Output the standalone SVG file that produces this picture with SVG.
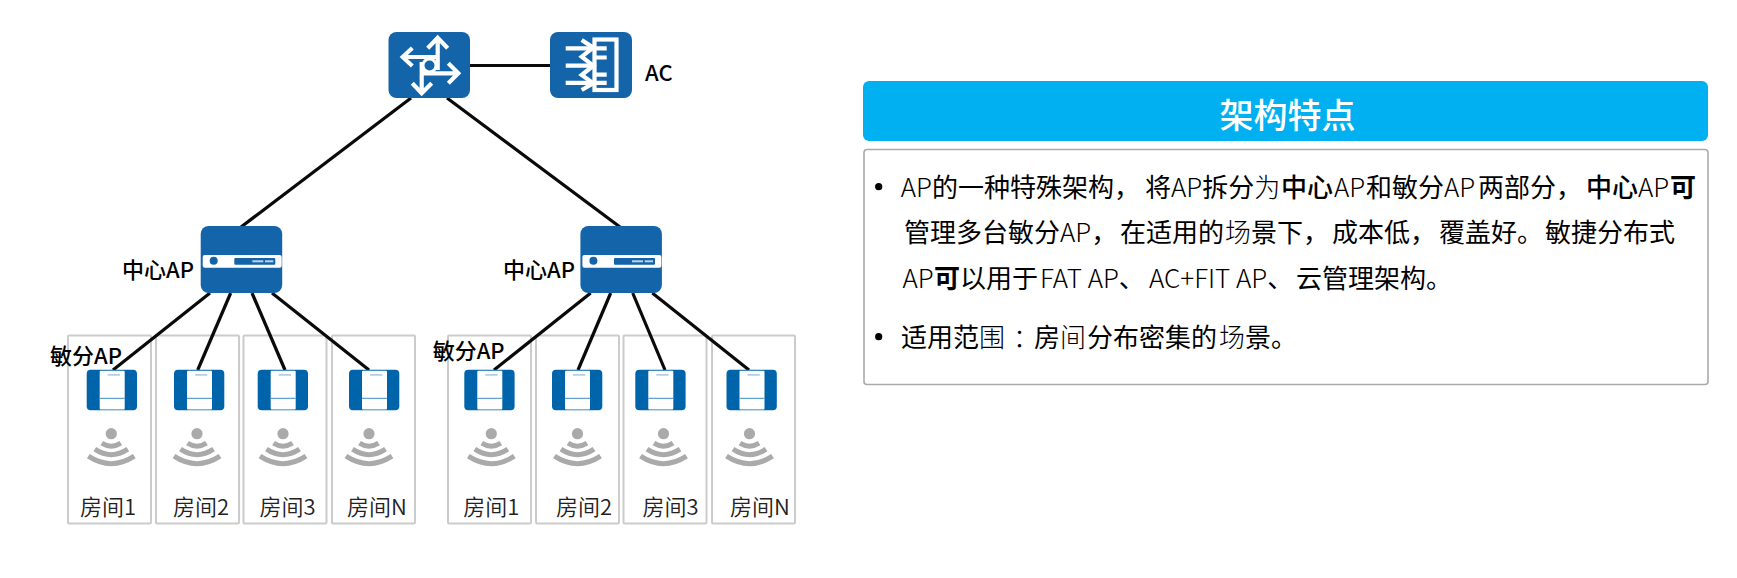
<svg xmlns="http://www.w3.org/2000/svg" xmlns:xlink="http://www.w3.org/1999/xlink" width="1737" height="578" viewBox="0 0 1737 578">
<style>
text{font-family:"Noto Sans CJK SC","Noto Sans",sans-serif;fill:#000}
.lab{font-size:22px;font-weight:500}
.room{font-size:22px;fill:#222;font-weight:350}
.body{font-size:26px;font-weight:400}
.l{font-weight:300}
.b{font-weight:500}
.box{fill:#fff;stroke:#ccc;stroke-width:2}
.conn line{stroke:#0a0a0a;stroke-width:3.2}
.w{fill:none;stroke:#fff;stroke-width:4.2}
.arc{fill:none;stroke:#aaa;stroke-width:5}
</style>
<defs>
<g id="ap-icon">
<rect width="81.5" height="67" rx="8" fill="#1464aa"/>
<rect x="2" y="29" width="79" height="12.7" rx="2" fill="#fff"/>
<circle cx="13" cy="34.7" r="4" fill="#1464aa"/>
<rect x="33.6" y="32" width="41" height="6.7" rx="1" fill="#1464aa"/>
<rect x="51.6" y="34.3" width="11" height="2" fill="#bcd3e8"/>
<rect x="64.3" y="34.3" width="8.3" height="2" fill="#bcd3e8"/>
</g>
<g id="sensor-icon">
<rect width="50.3" height="40.5" rx="4" fill="#0064aa"/>
<rect x="13" y="1" width="25" height="38.7" rx="1" fill="#fff"/>
<line x1="13" y1="28.6" x2="38" y2="28.6" stroke="#3f8cc4" stroke-width="1"/>
<rect x="21" y="4.6" width="12.3" height="1.2" fill="#8db8da"/>
</g>
<g id="wifi">
<circle r="5.6" fill="#aaa"/>
<path class="arc" d="M-9.5 9.5Q0 15.5 9.5 9.5"/>
<path class="arc" d="M-16.5 15.5Q0 26.5 16.5 15.5"/>
<path class="arc" d="M-23 22.5Q0 37.5 23 22.5"/>
</g>
</defs>

<g id="rooms-left">
<rect class="box" x="68" y="335.5" width="83" height="188" rx="1"/>
<rect class="box" x="156" y="335.5" width="83" height="188" rx="1"/>
<rect class="box" x="243.5" y="335.5" width="83" height="188" rx="1"/>
<rect class="box" x="332" y="335.5" width="83" height="188" rx="1"/>
</g>
<g id="rooms-right">
<rect class="box" x="448" y="335.5" width="83" height="188" rx="1"/>
<rect class="box" x="536" y="335.5" width="83" height="188" rx="1"/>
<rect class="box" x="623.5" y="335.5" width="83" height="188" rx="1"/>
<rect class="box" x="712" y="335.5" width="83" height="188" rx="1"/>
</g>

<g id="connectors" class="conn">
<line x1="470" y1="65.5" x2="550" y2="65.5"/>
<line x1="411" y1="98" x2="241" y2="227"/>
<line x1="447" y1="98" x2="620" y2="227"/>
<line x1="210" y1="293" x2="113" y2="370"/>
<line x1="230.7" y1="293" x2="197.7" y2="370"/>
<line x1="252" y1="293" x2="285" y2="370"/>
<line x1="272" y1="293" x2="369" y2="370"/>
<line x1="590.7" y1="293" x2="494" y2="370"/>
<line x1="610.7" y1="293" x2="578" y2="370"/>
<line x1="632.7" y1="293" x2="665" y2="370"/>
<line x1="652.3" y1="293" x2="749" y2="370"/>
</g>

<g id="router">
<rect x="388.5" y="32" width="81.5" height="66" rx="8" fill="#1464aa"/>
<path class="w" d="M437.7 70V38M427.7 48.3L437.7 37.7L447.7 48.3"/>
<path class="w" d="M437 57H403.5M412.3 48L402.7 57L412.3 66"/>
<path class="w" d="M421.7 62V93M412.3 83.3L421.7 93.3L431.7 83.3"/>
<path class="w" d="M423 73.3H457.5M448.3 63.3L458.3 73.3L448.3 83.3"/>
<circle cx="429.5" cy="65.5" r="6.5" fill="#1464aa" stroke="#fff" stroke-width="3"/>
</g>
<g id="ac">
<rect x="550" y="32" width="82" height="66" rx="8" fill="#1464aa"/>
<rect class="w" x="594.5" y="39.5" width="22" height="50.5" stroke-width="3"/>
<path class="w" d="M565.7 48.3H606.7M565.7 65.7H595M565.7 82.8H606.7M595 57.5H606.7M595 74.7H606.7" stroke-width="3"/>
<path class="w" d="M581.7 40L593.3 47.7L581.7 56.7L593.3 65.7L581.7 75L593.3 83.3L581.7 90" stroke-width="2.6"/>
<text class="lab" x="645" y="80.5">AC</text>
</g>
<g id="ap-center-left"><use href="#ap-icon" x="200.7" y="226"/><text class="lab" x="122" y="278">中心AP</text></g>
<g id="ap-center-right"><use href="#ap-icon" x="580.4" y="226"/><text class="lab" x="503" y="278">中心AP</text></g>

<g id="ap-l1"><use href="#sensor-icon" x="86.7" y="369.7"/><use href="#wifi" x="111.3" y="433.7"/><text class="room" x="80" y="515">房间1</text></g>
<g id="ap-l2"><use href="#sensor-icon" x="174" y="369.7"/><use href="#wifi" x="197" y="433.7"/><text class="room" x="173" y="515">房间2</text></g>
<g id="ap-l3"><use href="#sensor-icon" x="257.7" y="369.7"/><use href="#wifi" x="283" y="433.7"/><text class="room" x="259.5" y="515">房间3</text></g>
<g id="ap-l4"><use href="#sensor-icon" x="349" y="369.7"/><use href="#wifi" x="369" y="433.7"/><text class="room" x="347" y="515">房间N</text></g>
<g id="ap-r1"><use href="#sensor-icon" x="464.3" y="369.7"/><use href="#wifi" x="491.3" y="433.7"/><text class="room" x="463.3" y="515">房间1</text></g>
<g id="ap-r2"><use href="#sensor-icon" x="552" y="369.7"/><use href="#wifi" x="577.5" y="433.7"/><text class="room" x="556" y="515">房间2</text></g>
<g id="ap-r3"><use href="#sensor-icon" x="635.3" y="369.7"/><use href="#wifi" x="663.5" y="433.7"/><text class="room" x="642.5" y="515">房间3</text></g>
<g id="ap-r4"><use href="#sensor-icon" x="726.5" y="369.7"/><use href="#wifi" x="749.5" y="433.7"/><text class="room" x="730" y="515">房间N</text></g>
<text class="lab" x="50" y="364">敏分AP</text>
<text class="lab" x="432.7" y="359">敏分AP</text>

<g id="panel-header">
<rect x="863" y="81" width="845" height="60" rx="6" fill="#00b0f0"/>
<text x="1287.5" y="128" font-size="34" font-weight="500" text-anchor="middle" style="fill:#fff">架构特点</text>
</g>
<g id="panel-body">
<rect x="864" y="149.5" width="844" height="235" rx="3" fill="#fff" stroke="#aaa" stroke-width="1.6"/>
<circle cx="878.7" cy="186.7" r="3.6"/>
<circle cx="878.7" cy="336.7" r="3.6"/>
<text class="body" y="196.7"><tspan class="l" x="900.7">AP</tspan>的一种特殊架构，<tspan x="1145">将</tspan><tspan class="l">AP</tspan>拆分<tspan class="l">为</tspan><tspan class="b" x="1281">中心</tspan><tspan class="l" x="1334">AP</tspan><tspan x="1366">和敏分</tspan><tspan class="l">AP</tspan><tspan x="1478">两部分，</tspan><tspan class="b" x="1586">中心</tspan><tspan class="l" x="1638">AP</tspan><tspan font-weight="700" x="1670">可</tspan></text>
<text class="body" y="241.7"><tspan x="904">管理多台敏分</tspan><tspan class="l">AP</tspan>，<tspan x="1120">在适用的</tspan><tspan class="l" x="1225">场</tspan>景下，<tspan x="1332">成本低，</tspan><tspan x="1439">覆盖好。</tspan><tspan x="1545">敏捷分布式</tspan></text>
<text class="body" y="288"><tspan class="l" x="902.5">AP</tspan><tspan font-weight="700" x="934">可</tspan>以用于<tspan class="l" x="1040">FAT AP</tspan>、<tspan class="l" x="1149">AC+FIT AP</tspan>、<tspan x="1296">云管理架构。</tspan></text>
<text class="body" y="346.7"><tspan x="901">适用范</tspan><tspan class="l">围</tspan><tspan class="l" x="1013">：</tspan><tspan x="1034">房</tspan><tspan class="l">间</tspan><tspan x="1087">分布密集的</tspan><tspan class="l" x="1219">场</tspan>景。</text>
</g>
</svg>
